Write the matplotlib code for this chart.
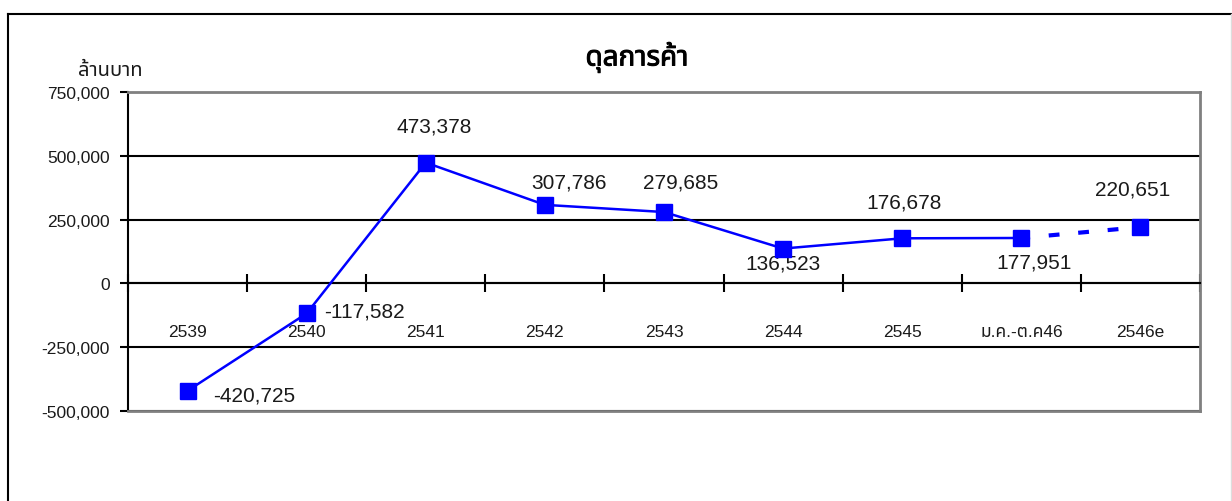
import matplotlib
matplotlib.use("Agg")
import matplotlib.pyplot as plt
import matplotlib.patheffects as pe
from matplotlib.lines import Line2D
from matplotlib.ticker import FixedLocator, FuncFormatter

plt.rcParams['font.family'] = ['Liberation Sans', 'Noto Sans Thai', 'Noto Sans', 'DejaVu Sans']

# data
categories = ['2539', '2540', '2541', '2542', '2543', '2544', '2545', 'ม.ค.-ต.ค46', '2546e']
balance = [-420725, -117582, 473378, 307786, 279685, 136523, 176678, 177951, 220651]
title = 'ดุลการค้า'
unit_label = 'ล้านบาท'

# label offsets in pixels (dx, dy) and alignment
label_style = [(26, -4, 'left'), (17, 2, 'left'), (8, 37, 'center'), (24, 23, 'center'),
               (17, 30, 'center'), (0, -14, 'center'), (2, 36, 'center'), (13, -24, 'center'),
               (-8, 38, 'center')]

blue = '#0000ff'
grey = '#808080'
text_col = '#1a1a1a'

fig = plt.figure(figsize=(12.32, 5.02), dpi=100)
ax = fig.add_axes([128 / 1232, 1 - 412 / 502, 1072 / 1232, 319 / 502])

x = list(range(len(categories)))
n_solid = len(categories) - 1

# solid part and dashed estimate segment
ax.plot(x[:n_solid], balance[:n_solid], color=blue, lw=1.8, zorder=3)
ax.plot(x[n_solid - 1:], balance[n_solid - 1:], color=blue, lw=3,
        linestyle=(0.5, (2.6, 4.5)), zorder=3)
ax.plot(x, balance, linestyle='none', marker='s', markersize=11.5,
        color=blue, zorder=4)

for xi, v, (dx, dy, ha) in zip(x, balance, label_style):
    ax.annotate(f'{v:,}', (xi, v), xytext=(dx, dy), textcoords='offset pixels',
                ha=ha, va='center', fontsize=15, color=text_col)

ax.set_xlim(-0.5, len(categories) - 0.5)
ax.set_ylim(-500000, 750000)

# y axis
ax.yaxis.set_major_locator(FixedLocator([-500000, -250000, 0, 250000, 500000, 750000]))
ax.yaxis.set_major_formatter(FuncFormatter(lambda v, p: f'{v:,.0f}'))
ax.tick_params(axis='y', direction='out', length=6, width=1.5, color='black',
               labelsize=12.5, labelcolor=text_col, pad=7)
ax.yaxis.grid(True, color='black', lw=1.5)
ax.set_axisbelow(True)

# x axis sits on zero line, category boundaries as ticks
ax.spines['bottom'].set_position(('data', 0))
ax.spines['bottom'].set_linewidth(1.5)
ax.xaxis.set_major_locator(FixedLocator([i - 0.5 for i in range(len(categories) + 1)]))
ax.xaxis.set_major_formatter(FuncFormatter(lambda v, p: ''))
ax.xaxis.set_minor_locator(FixedLocator(x))
ax.set_xticklabels(categories, minor=True)
ax.tick_params(axis='x', which='major', direction='inout', length=13, width=1.5)
ax.tick_params(axis='x', which='minor', length=0, pad=29, labelsize=12.5,
               labelcolor=text_col)

ax.spines['left'].set_linewidth(1.5)
for side in ['top', 'right']:
    ax.spines[side].set_color(grey)
    ax.spines[side].set_linewidth(2)
ax.axhline(-500000, color=grey, lw=2, zorder=2.6, clip_on=False)

fig.text(637 / 1232, 1 - 58 / 502, title, ha='center', va='center', fontsize=20,
         fontweight='bold', color='black',
         path_effects=[pe.withStroke(linewidth=0.7, foreground='black')])
fig.text(110 / 1232, 1 - 70 / 502, unit_label, ha='center', va='center',
         fontsize=14.5, color=text_col)

# outer frame
fig.add_artist(Line2D([8 / 1232, 8 / 1232], [0, 1 - 15 / 502], color='black', lw=1.5))
fig.add_artist(Line2D([8 / 1232, 1], [1 - 15 / 502, 1 - 15 / 502], color='black', lw=1.5))
fig.add_artist(Line2D([1231 / 1232, 1231 / 1232], [0, 1 - 15 / 502], color='#dddddd', lw=1))

fig.savefig('out.png', dpi=100)
